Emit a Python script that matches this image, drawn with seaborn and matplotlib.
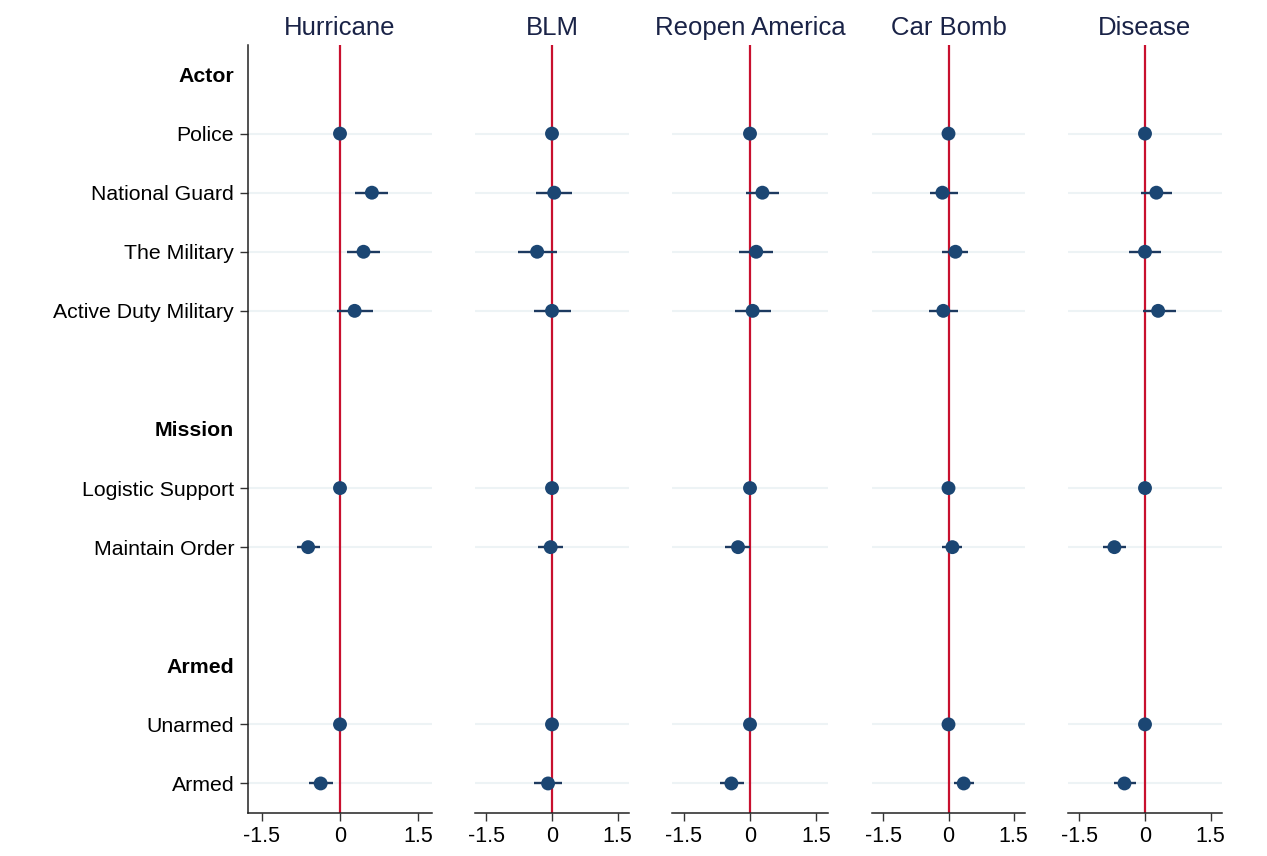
import numpy as np
import pandas as pd
import matplotlib
matplotlib.use("Agg")
import matplotlib.pyplot as plt
import seaborn as sns

sns.set_theme(style="white")
plt.rcParams["font.family"] = ["Liberation Sans", "DejaVu Sans"]

# ---------------- data ----------------
scenarios = ["Hurricane", "BLM", "Reopen America", "Car Bomb", "Disease"]
row_labels = ["Actor", "Police", "National Guard", "The Military", "Active Duty Military", "",
              "Mission", "Logistic Support", "Maintain Order", "",
              "Armed", "Unarmed", "Armed"]
header_rows = [0, 6, 10]
terms = ["Police", "National Guard", "The Military", "Active Duty Military",
         "Logistic Support", "Maintain Order", "Unarmed", "Armed"]
term_rows = [1, 2, 3, 4, 7, 8, 11, 12]

nan = np.nan
hurricane_est = [0, 0.61, 0.45, 0.28, 0, -0.61, 0, -0.37]
hurricane_lo = [nan, 0.29, 0.13, -0.06, nan, -0.83, nan, -0.59]
hurricane_hi = [nan, 0.91, 0.77, 0.63, nan, -0.38, nan, -0.13]

blm_est = [0, 0.05, -0.34, 0.00, 0, -0.03, 0, -0.09]
blm_lo = [nan, -0.37, -0.77, -0.42, nan, -0.33, nan, -0.41]
blm_hi = [nan, 0.45, 0.11, 0.43, nan, 0.26, nan, 0.22]

reopen_est = [0, 0.28, 0.14, 0.06, 0, -0.27, 0, -0.42]
reopen_lo = [nan, -0.09, -0.25, -0.34, nan, -0.56, nan, -0.68]
reopen_hi = [nan, 0.65, 0.52, 0.47, nan, 0.00, nan, -0.14]

carbomb_est = [0, -0.14, 0.16, -0.12, 0, 0.09, 0, 0.35]
carbomb_lo = [nan, -0.42, -0.14, -0.44, nan, -0.16, nan, 0.12]
carbomb_hi = [nan, 0.21, 0.44, 0.23, nan, 0.30, nan, 0.58]

disease_est = [0, 0.26, 0.00, 0.30, 0, -0.70, 0, -0.47]
disease_lo = [nan, -0.09, -0.37, -0.05, nan, -0.96, nan, -0.71]
disease_hi = [nan, 0.61, 0.37, 0.70, nan, -0.44, nan, -0.20]

xticks = [-1.5, 0, 1.5]
xtick_labels = ["-1.5", "0", "1.5"]

frames = []
for name, est, lo, hi in [
    ("Hurricane", hurricane_est, hurricane_lo, hurricane_hi),
    ("BLM", blm_est, blm_lo, blm_hi),
    ("Reopen America", reopen_est, reopen_lo, reopen_hi),
    ("Car Bomb", carbomb_est, carbomb_lo, carbomb_hi),
    ("Disease", disease_est, disease_lo, disease_hi),
]:
    frames.append(pd.DataFrame({"scenario": name, "term": terms, "row": term_rows,
                                "est": est, "lo": lo, "hi": hi}))
df = pd.concat(frames, ignore_index=True)

# ---------------- layout ----------------
W, H = 1267, 856
fig = plt.figure(figsize=(W / 100, H / 100), dpi=100)
panel_px = [(248, 432), (475, 629), (672, 828), (872, 1025), (1068, 1222)]
top_px, bot_px = 45, 813

navy_pt = "#1b4673"
navy_ci = "#1d3a60"
red = "#c8102e"
grid_c = "#edf3f5"
title_c = "#1a2347"

for i, (scen, (x0, x1)) in enumerate(zip(scenarios, panel_px)):
    ax = fig.add_axes([x0 / W, 1 - bot_px / H, (x1 - x0) / W, (bot_px - top_px) / H])
    sub = df[df["scenario"] == scen]
    ax.set_xlim(-1.76, 1.76)
    ax.set_ylim(12.5, -0.5)
    for r in term_rows:
        ax.axhline(r, color=grid_c, lw=1.5, zorder=0)
    ax.axvline(0, color=red, lw=1.6, zorder=1)
    ci = sub.dropna(subset=["lo", "hi"])
    ax.hlines(ci["row"], ci["lo"], ci["hi"], color=navy_ci, lw=1.7, zorder=2)
    sns.scatterplot(data=sub, x="est", y="row", ax=ax, color=navy_pt, s=100,
                    edgecolor="none", zorder=3, legend=False)
    ax.set_xlabel("")
    ax.set_ylabel("")
    ax.set_title(scen, fontsize=18.5, color=title_c, pad=7)
    ax.set_xticks(xticks)
    ax.set_xticklabels(xtick_labels, fontsize=15.5)
    ax.tick_params(axis="x", direction="out", length=6, width=1, color="#333333",
                   bottom=True, pad=3, labelcolor="black")
    for s in ["top", "right"]:
        ax.spines[s].set_visible(False)
    ax.spines["bottom"].set_color("#222222")
    ax.spines["bottom"].set_linewidth(1.1)
    if i == 0:
        ax.set_yticks(range(len(row_labels)))
        ax.set_yticklabels(row_labels, fontsize=15.3)
        ax.tick_params(axis="y", direction="out", length=6, width=1, color="#333333",
                       left=True, pad=4, labelcolor="black")
        ax.spines["left"].set_color("#222222")
        ax.spines["left"].set_linewidth(1.1)
        yt = ax.yaxis.get_major_ticks()
        for j, t in enumerate(yt):
            if j in header_rows or row_labels[j] == "":
                t.tick1line.set_visible(False)
        for j, lab in enumerate(ax.get_yticklabels()):
            if j in header_rows:
                lab.set_fontweight("bold")
    else:
        ax.set_yticks([])
        ax.spines["left"].set_visible(False)

fig.savefig("out.png", dpi=100, facecolor="white")
